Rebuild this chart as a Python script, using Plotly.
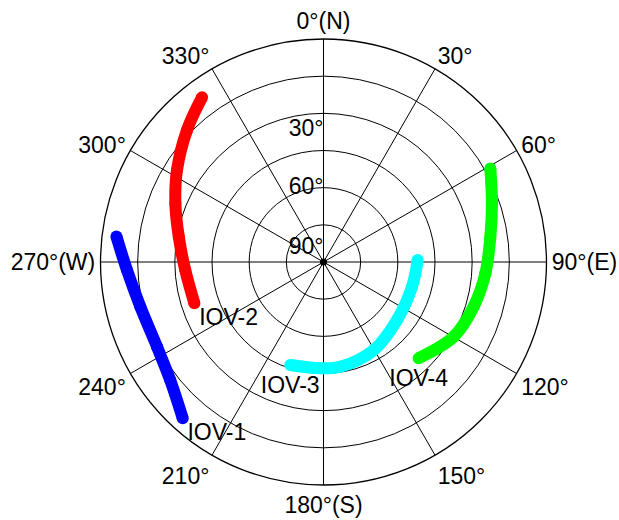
import plotly.graph_objects as go

# Satellite tracks: azimuth (deg, clockwise from north) and elevation (deg)
iov1_az = [277.0, 267.7, 256.3, 243.0, 232.4, 222.0]
iov1_el = [5.8, 10.6, 13.9, 14.6, 11.9, 5.1]

iov2_az = [323.6, 314.0, 302.1, 291.6, 279.9, 266.7, 252.3]
iov2_el = [7.4, 13.4, 20.2, 25.7, 30.7, 34.1, 35.3]

iov3_az = [88.8, 105.6, 128.3, 150.3, 170.9, 181.7, 197.9]
iov3_el = [52.0, 52.9, 52.2, 49.1, 47.2, 47.1, 46.3]

iov4_az = [60.7, 70.8, 81.4, 94.0, 106.6, 119.8, 135.3]
iov4_el = [12.8, 18.0, 21.9, 24.5, 26.8, 29.4, 35.4]

names = ["IOV-1", "IOV-2", "IOV-3", "IOV-4"]
colors = ["#0000ff", "#ff0000", "#00ffff", "#00ff00"]
label_pos = ["bottom right", "bottom right", "bottom center", "bottom center"]
label_gap = [6, 6, 16, 16]   # invisible anchor size, sets the text offset

# Angular ticks
az_ticks = [0, 30, 60, 90, 120, 150, 180, 210, 240, 270, 300, 330]
az_text = ["0°(N)", "30°", "60°", "90°(E)", "120°", "150°", "180°(S)",
           "210°", "240°", "270°(W)", "300°", "330°"]

# Elevation ring labels and where they sit along the north spoke
el_labels = ["30°", "60°", "90°"]
el_label_r = [53.3, 29.9, 5.6]

FONT = "Liberation Sans, Arial, Helvetica, sans-serif"
FS = 23

fig = go.Figure()

tracks = [(iov1_az, iov1_el), (iov2_az, iov2_el), (iov3_az, iov3_el), (iov4_az, iov4_el)]
for (az, el), name, col, pos, gap in zip(tracks, names, colors, label_pos, label_gap):
    r = [90 - e for e in el]
    fig.add_trace(go.Scatterpolar(
        r=r, theta=az, mode="lines+markers",
        line=dict(color=col, width=12, shape="spline"),
        marker=dict(color=col, size=12),
        showlegend=False, hoverinfo="skip"))
    fig.add_trace(go.Scatterpolar(
        r=[r[-1]], theta=[az[-1]], mode="markers+text", text=[name],
        marker=dict(size=gap, opacity=0),
        textposition=pos, textfont=dict(family=FONT, size=FS, color="black"),
        showlegend=False, hoverinfo="skip"))

# Elevation labels
fig.add_trace(go.Scatterpolar(
    r=el_label_r, theta=[0, 0, 0], mode="text", text=el_labels,
    textposition="middle left", textfont=dict(family=FONT, size=FS, color="black"),
    showlegend=False, hoverinfo="skip"))

# Zenith dot
fig.add_trace(go.Scatterpolar(
    r=[0], theta=[0], mode="markers",
    marker=dict(color="black", size=7), showlegend=False, hoverinfo="skip"))

fig.update_layout(
    width=619, height=520,
    margin=dict(l=100, r=72, t=39, b=35),
    paper_bgcolor="white",
    font=dict(family=FONT, size=FS, color="black"),
    polar=dict(
        bgcolor="white",
        radialaxis=dict(
            range=[0, 90], tickvals=[15, 30, 45, 60, 75, 90],
            showticklabels=False, ticks="", showline=False,
            gridcolor="black", gridwidth=1),
        angularaxis=dict(
            direction="clockwise", rotation=90,
            tickvals=az_ticks, ticktext=az_text, ticks="",
            showline=True, linecolor="black", linewidth=1.3,
            gridcolor="black", gridwidth=1,
            tickfont=dict(family=FONT, size=FS, color="black")),
    ),
)

fig.write_html("out.html")
